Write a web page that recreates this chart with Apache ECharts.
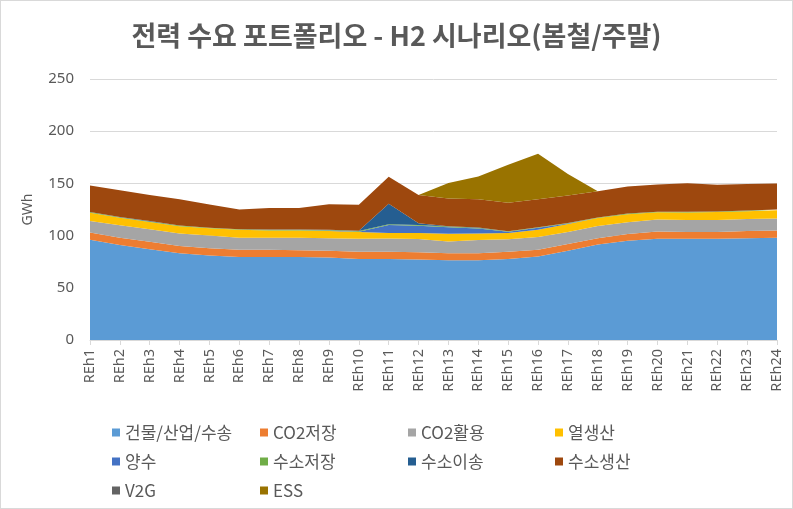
<!DOCTYPE html>
<html><head><meta charset="utf-8">
<script src="https://cdn.jsdelivr.net/npm/echarts@6/dist/echarts.min.js"></script>
<style>html,body{margin:0;padding:0;background:#fff}#c{width:791px;height:507px;border:1px solid #d9d9d9}</style>
</head><body><div id="c"></div>
<script>
const categories = ['REh1','REh2','REh3','REh4','REh5','REh6','REh7','REh8','REh9','REh10','REh11','REh12','REh13','REh14','REh15','REh16','REh17','REh18','REh19','REh20','REh21','REh22','REh23','REh24'];
const building = [96,91,87,83,81,79.5,79.5,79.5,79,77.5,77.5,77,76.5,76.5,77.5,80,85.5,91.5,95,97,97,97,97.5,98];
const co2Storage = [7,7,7,7,7,7,7,6.5,6.5,7,7,7,6.5,6.5,7,6.5,6.5,6,6.5,7,6.5,6.5,7,7];
const co2Use = [11,12,12,12,12,11.5,11.5,12,12,12.4,12.7,12.7,11.4,12.7,12.1,12.1,11.4,11.7,11.4,11.4,11.4,11.4,11.4,11.4];
const heat = [8,7,7,7,7,7.5,7,7,7,6.6,5.4,5.7,7.3,6.3,6,6.9,7.6,7.6,7.6,6.9,7.3,7.6,7.5,7.9];
const pumped = [0,0,0,0,0,0,0,0,0.3,0.3,7.6,7.1,6.3,4.7,1,2,0.5,0,0,0,0,0,0,0];
const h2Storage = [0.6,0.6,0.6,0.6,0.6,0.6,0.6,0.6,0.6,0.6,0.6,0.6,0.6,0.6,0.6,0.6,0.6,0.6,0.6,0.6,0.6,0.6,0.6,0.6];
const h2Transport = [0,0.3,0.3,0,0,0,0.3,0.3,0.3,0.3,19.7,1.8,0.4,0.4,0,0,0,0,0,0,0,0,0,0];
const h2Production = [25.3,25.5,25,25.3,22.3,18.9,20.6,20.6,24.3,24.8,25.9,27,26.6,27,27.2,26.7,26.2,25.1,26,26,27.3,25.7,25.4,25.1];
const v2g = [0,0,0,0,0,0,0,0,0,0,0,0,0,0,0,0,0,0,0,0,0,0,0,0];
const ess = [0,0,0,0,0,0,0,0,0,0,0,0,14.9,21.8,36.5,43.7,20.8,0,0,0,0,0,0,0];
const yTicks = [0,50,100,150,200,250];

const names = ['건물/산업/수송','CO2저장','CO2활용','열생산','양수','수소저장','수소이송','수소생산','V2G','ESS'];
const datas = [building,co2Storage,co2Use,heat,pumped,h2Storage,h2Transport,h2Production,v2g,ess];
const colors = ['#5B9BD5','#ED7D31','#A5A5A5','#FFC000','#4472C4','#70AD47','#255E91','#9E480E','#636363','#997300'];

const series = names.map((n,i)=>({
  name:n, type:'line', stack:'total', data:datas[i], symbol:'none',
  lineStyle:{width:0}, areaStyle:{color:colors[i],opacity:1}, itemStyle:{color:colors[i]}
}));

const legendFont = {fontSize:17,color:'#595959',fontFamily:'"Noto Sans CJK KR", sans-serif'};
function lg(left,data){return {orient:'vertical',left:left,top:418,itemWidth:8,itemHeight:8,itemGap:12,icon:'rect',textStyle:legendFont,data:data,selectedMode:false};}

const chart = echarts.init(document.getElementById('c'));
chart.setOption({
  animation:false,
  color:colors,
  title:{text:'전력 수요 포트폴리오 - H2 시나리오(봄철/주말)',left:'center',top:16,
    textStyle:{fontSize:27,fontWeight:'bold',color:'#595959',fontFamily:'"Noto Sans CJK KR", sans-serif'}},
  legend:[
    lg(106,['건물/산업/수송','양수','V2G']),
    lg(254,['CO2저장','수소저장','ESS']),
    lg(402,['CO2활용','수소이송']),
    lg(549,['열생산','수소생산'])
  ],
  grid:{left:89,right:15,top:78,bottom:168,containLabel:false},
  xAxis:{type:'category',data:categories,boundaryGap:false,
    axisLine:{lineStyle:{color:'#d9d9d9'}},axisTick:{show:true,lineStyle:{color:'#d9d9d9'},length:5},
    axisLabel:{rotate:90,fontSize:14.5,color:'#595959',margin:9,interval:0,fontFamily:'"Noto Sans", sans-serif'}},
  yAxis:{type:'value',min:0,max:250,interval:50,name:'GWh',nameLocation:'middle',nameGap:55,nameRotate:90,
    nameTextStyle:{fontSize:14,color:'#595959',fontFamily:'"Noto Sans", sans-serif'},
    axisLine:{show:false},axisTick:{show:false},
    axisLabel:{fontSize:15,color:'#595959',margin:16,fontFamily:'"Noto Sans", sans-serif',
      formatter:v=>yTicks.includes(v)?String(v):''},
    splitLine:{lineStyle:{color:'#d9d9d9'}}},
  series:series
});
</script></body></html>
